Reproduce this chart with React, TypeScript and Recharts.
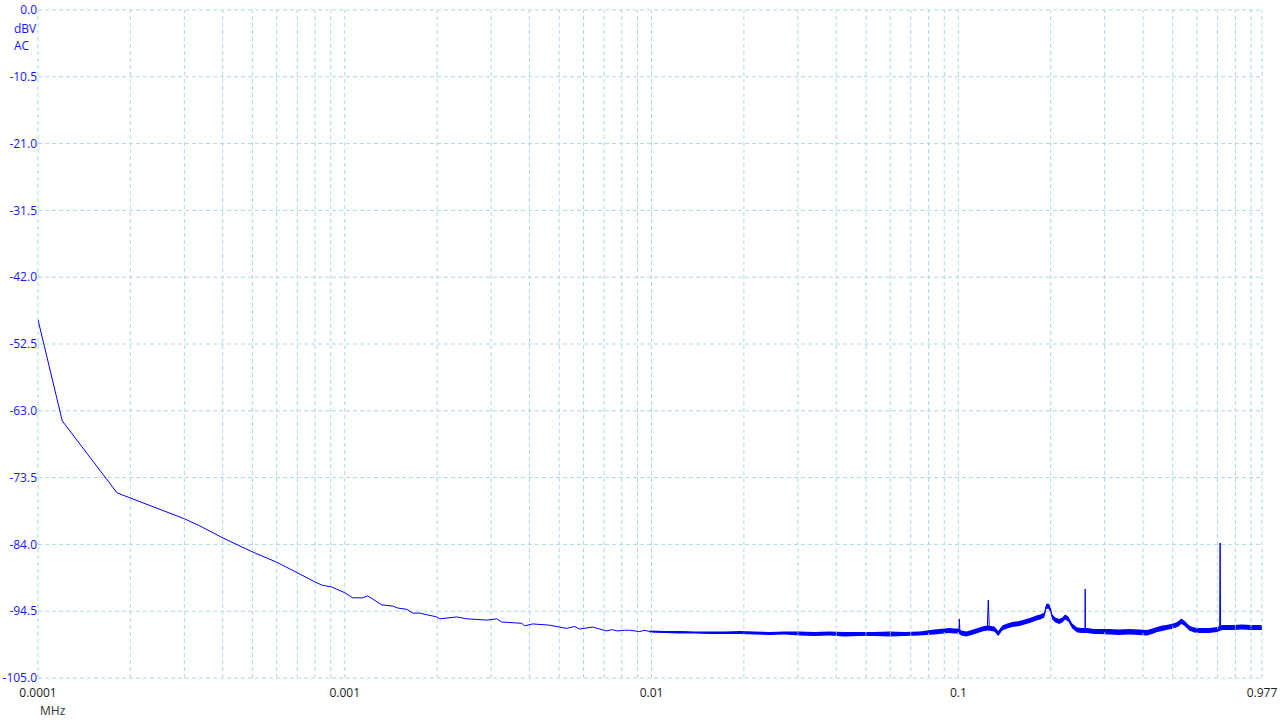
import React from 'react';
import { ComposedChart, Line, Area, XAxis, YAxis, CartesianGrid, ReferenceLine } from 'recharts';

// Frequency axis (MHz, log)
const freqTicks = [0.0001, 0.001, 0.01, 0.1, 0.977];
const freqTickLabels = ['0.0001', '0.001', '0.01', '0.1', '0.977'];
const gridFreqs = [
  0.0001, 0.0002, 0.0003, 0.0004, 0.0005, 0.0006, 0.0007, 0.0008, 0.0009,
  0.001, 0.002, 0.003, 0.004, 0.005, 0.006, 0.007, 0.008, 0.009,
  0.01, 0.02, 0.03, 0.04, 0.05, 0.06, 0.07, 0.08, 0.09,
  0.1, 0.2, 0.3, 0.4, 0.5, 0.6, 0.7, 0.8, 0.9, 0.977,
];
// Level axis (dBV)
const levelTicks = [0, -10.5, -21, -31.5, -42, -52.5, -63, -73.5, -84, -94.5, -105];

// Spectrum trace: [frequency MHz, level dBV]
const trace: [number, number][] = [
  [0.0001, -48.7], [0.00012, -64.6], [0.000181, -75.9], [0.000301, -80.0], [0.000337, -81.1],
  [0.000401, -83.0], [0.000501, -85.2], [0.0006, -86.8], [0.000703, -88.5], [0.000799, -89.9],
  [0.000842, -90.4], [0.000907, -90.7], [0.001, -91.6], [0.001062, -92.4], [0.001145, -92.4],
  [0.001188, -92.1], [0.001234, -92.6], [0.00132, -93.5], [0.001434, -93.7], [0.001488, -94.0],
  [0.001592, -94.2], [0.001665, -94.8], [0.001755, -94.8], [0.001994, -95.4], [0.00204, -95.7],
  [0.002317, -95.4], [0.002497, -95.7], [0.0029, -95.9], [0.003126, -95.7], [0.003246, -96.2],
  [0.003772, -96.4], [0.003858, -96.8], [0.004097, -96.5], [0.004655, -96.7], [0.005015, -97.0],
  [0.005285, -97.2], [0.005613, -96.9], [0.005829, -97.3], [0.006424, -97.0], [0.00677, -97.3],
  [0.007134, -97.6], [0.007408, -97.4], [0.007749, -97.6], [0.008169, -97.5], [0.008477, -97.5],
  [0.00914, -97.7], [0.009489, -97.5],
  [0.00985, -97.69], [0.01102, -97.77], [0.01234, -97.77], [0.01381, -97.85], [0.01545, -97.85],
  [0.01729, -97.93], [0.01935, -97.85], [0.02165, -97.93], [0.02423, -98.01], [0.02712, -97.93],
  [0.03034, -98.01], [0.03396, -98.09], [0.038, -98.01], [0.04253, -98.09], [0.04759, -98.09],
  [0.05326, -98.09], [0.0596, -98.09], [0.0667, -98.09], [0.07464, -98.01], [0.08352, -97.77],
  [0.09003, -97.61], [0.09348, -97.53], [0.09705, -97.61], [0.1, -97.61], [0.1005, -97.61],
  [0.1008, -95.72], [0.1012, -97.7], [0.1023, -97.93], [0.1062, -98.09], [0.1103, -97.85],
  [0.1145, -97.61], [0.1197, -97.3], [0.1243, -97.14], [0.1252, -92.74], [0.1262, -97.22],
  [0.131, -97.3], [0.135, -98.09], [0.1391, -97.14], [0.1444, -96.83], [0.1499, -96.59],
  [0.158, -96.43], [0.1666, -96.12], [0.1729, -95.88], [0.1796, -95.57], [0.185, -95.41],
  [0.1906, -95.09], [0.1935, -93.68], [0.1965, -93.6], [0.1994, -94.15], [0.2025, -95.41],
  [0.207, -95.88], [0.2133, -96.12], [0.2182, -95.88], [0.2231, -95.41], [0.2282, -95.72],
  [0.2351, -96.83], [0.2441, -97.46], [0.2534, -97.53], [0.2587, -97.53], [0.2592, -91.01],
  [0.2597, -97.53], [0.2631, -97.53], [0.2773, -97.69], [0.288, -97.69], [0.3104, -97.77],
  [0.3345, -97.77], [0.3606, -97.77], [0.3886, -97.77], [0.4127, -97.93], [0.4285, -97.61],
  [0.4449, -97.38], [0.4619, -97.14], [0.4759, -97.06], [0.4941, -96.91], [0.513, -96.67],
  [0.5247, -96.35], [0.5326, -96.04], [0.5447, -96.35], [0.557, -96.83], [0.5654, -97.14],
  [0.587, -97.46], [0.6095, -97.53], [0.6569, -97.53], [0.6975, -97.38], [0.7111, -97.2],
  [0.7134, -83.78], [0.716, -97.1], [0.7242, -97.06], [0.7805, -97.06], [0.8414, -96.98],
  [0.9003, -97.06], [0.977, -97.06],
];

// Noise band envelope: [frequency MHz, low dBV, high dBV]
const band: [number, number, number][] = [
  [0.00985, -97.85, -97.53], [0.01102, -97.93, -97.61], [0.01234, -98.01, -97.61],
  [0.01381, -98.01, -97.69], [0.01545, -98.09, -97.69], [0.01729, -98.09, -97.69],
  [0.01935, -98.09, -97.61], [0.02165, -98.17, -97.69], [0.02423, -98.24, -97.77],
  [0.02712, -98.17, -97.69], [0.03034, -98.32, -97.69], [0.03396, -98.4, -97.77],
  [0.038, -98.32, -97.69], [0.04253, -98.48, -97.77], [0.04759, -98.4, -97.77],
  [0.05326, -98.4, -97.77], [0.0596, -98.48, -97.69], [0.0667, -98.4, -97.77],
  [0.07464, -98.32, -97.69], [0.08352, -98.17, -97.38], [0.09003, -98.01, -97.22],
  [0.09348, -97.93, -97.14], [0.09705, -98.01, -97.22], [0.1, -98.01, -97.22],
  [0.1023, -98.32, -97.53], [0.1062, -98.48, -97.69], [0.1103, -98.24, -97.46],
  [0.1145, -98.01, -97.22], [0.1197, -97.69, -96.91], [0.1243, -97.53, -96.75],
  [0.131, -97.69, -96.91], [0.135, -98.4, -97.61], [0.1391, -97.53, -96.75],
  [0.1444, -97.22, -96.43], [0.1499, -96.98, -96.2], [0.158, -96.83, -96.04],
  [0.1666, -96.51, -95.72], [0.1729, -96.28, -95.49], [0.1796, -95.96, -95.17],
  [0.185, -95.8, -95.01], [0.1906, -95.49, -94.7], [0.1935, -94.15, -93.37],
  [0.1965, -94.07, -93.29], [0.1994, -94.62, -93.68], [0.2025, -95.8, -95.01],
  [0.207, -96.28, -95.49], [0.2133, -96.51, -95.72], [0.2182, -96.28, -95.49],
  [0.2231, -95.8, -95.01], [0.2282, -96.12, -95.33], [0.2351, -97.22, -96.43],
  [0.2441, -97.85, -97.06], [0.2534, -97.93, -97.14], [0.2631, -97.93, -97.14],
  [0.2773, -98.09, -97.3], [0.288, -98.09, -97.3], [0.3104, -98.17, -97.3],
  [0.3345, -98.24, -97.38], [0.3606, -98.17, -97.3], [0.3886, -98.24, -97.38],
  [0.4127, -98.32, -97.46], [0.4285, -98.09, -97.22], [0.4449, -97.77, -96.98],
  [0.4619, -97.61, -96.75], [0.4759, -97.46, -96.67], [0.4941, -97.3, -96.51],
  [0.513, -97.06, -96.28], [0.5247, -96.83, -95.96], [0.5326, -96.51, -95.64],
  [0.5447, -96.75, -95.96], [0.557, -97.22, -96.43], [0.5654, -97.53, -96.75],
  [0.587, -97.85, -97.06], [0.6095, -97.93, -97.14], [0.6569, -97.93, -97.14],
  [0.6975, -97.77, -96.98], [0.7242, -97.46, -96.67], [0.7805, -97.46, -96.67],
  [0.8414, -97.38, -96.59], [0.9003, -97.46, -96.67], [0.977, -97.46, -96.67],
];

type Row = { f: number; level?: number; band?: [number, number] };

function buildRows(): Row[] {
  const map = new Map<number, Row>();
  trace.forEach(([f, v]) => {
    const r = map.get(f) || { f };
    r.level = v;
    map.set(f, r);
  });
  band.forEach(([f, lo, hi]) => {
    const r = map.get(f) || { f };
    r.band = [lo, hi];
    map.set(f, r);
  });
  return Array.from(map.values()).sort((a, b) => a.f - b.f);
}

const rows = buildRows();
const FONT = '"Open Sans", "Noto Sans", sans-serif';
const GRID = '#ADD8E6';
const BLUE = '#0000FF';

export default function App() {
  return (
    <div style={{ position: 'absolute', left: 0, top: 0, width: 1280, height: 720, background: '#fff', fontFamily: FONT }}>
      <ComposedChart
        width={1280}
        height={720}
        data={rows}
        margin={{ top: 10, right: 18, left: 0, bottom: 0 }}
      >
        <CartesianGrid stroke={GRID} strokeDasharray="4 3" vertical={false} />
        {gridFreqs.map((f) => (
          <ReferenceLine key={f} x={f} stroke={GRID} strokeDasharray="4 3" strokeWidth={1} />
        ))}
        <XAxis
          dataKey="f"
          type="number"
          scale="log"
          domain={[0.0001, 0.977]}
          allowDataOverflow
          ticks={freqTicks}
          interval={0}
          tickFormatter={(v: number) => freqTickLabels[freqTicks.indexOf(v)] ?? String(v)}
          axisLine={false}
          tickLine={false}
          tickSize={0}
          tickMargin={10}
          height={42}
          tick={{ fill: '#1a1a1a', fontSize: 12, fontFamily: FONT }}
        />
        <YAxis
          type="number"
          domain={[-105, 0]}
          ticks={levelTicks}
          interval={0}
          tickFormatter={(v: number) => v.toFixed(1)}
          axisLine={false}
          tickLine={false}
          tickSize={0}
          tickMargin={1}
          width={38}
          tick={{ fill: '#1414ff', fontSize: 12, fontFamily: FONT }}
        />
        <Area
          dataKey="band"
          type="linear"
          connectNulls
          stroke="none"
          fill={BLUE}
          fillOpacity={1}
          dot={false}
          activeDot={false}
          isAnimationActive={false}
        />
        <Line
          dataKey="level"
          type="linear"
          connectNulls
          stroke={BLUE}
          strokeWidth={1}
          dot={false}
          activeDot={false}
          isAnimationActive={false}
        />
      </ComposedChart>
      <div style={{ position: 'absolute', left: 14, top: 21, fontSize: 12, lineHeight: '16px', color: '#1414ff' }}>dBV</div>
      <div style={{ position: 'absolute', left: 14, top: 38, fontSize: 12, lineHeight: '16px', color: '#1414ff' }}>AC</div>
      <div style={{ position: 'absolute', left: 40, top: 703, fontSize: 12, lineHeight: '16px', color: '#333' }}>MHz</div>
    </div>
  );
}
